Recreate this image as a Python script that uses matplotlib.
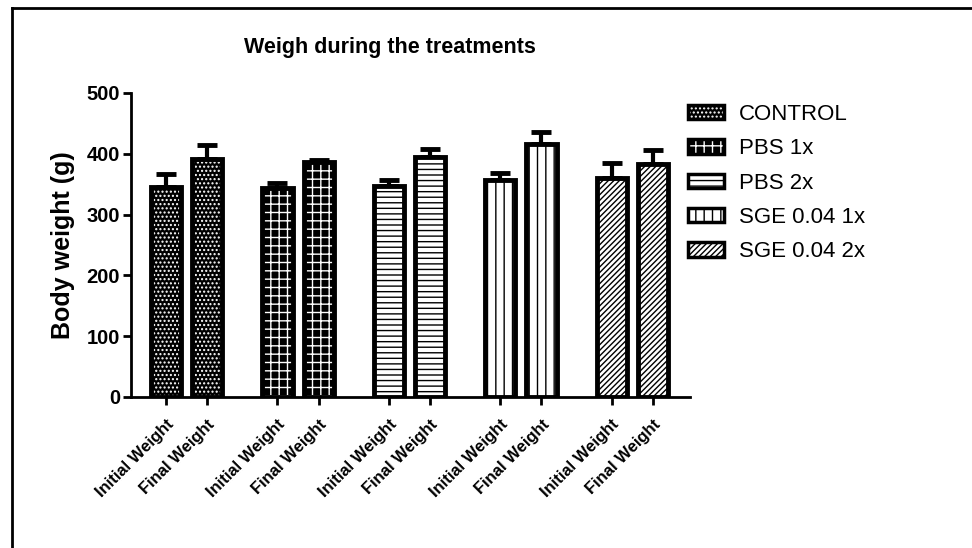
import numpy as np
import matplotlib.pyplot as plt
from matplotlib.patches import Patch
from matplotlib.lines import Line2D
from matplotlib.legend_handler import HandlerTuple

plt.rcParams['font.family'] = ['Liberation Sans', 'DejaVu Sans']
plt.rcParams['hatch.linewidth'] = 1.0

# données
groups = ["CONTROL", "PBS 1x", "PBS 2x", "SGE 0.04 1x", "SGE 0.04 2x"]
tick_labels = ["Initial Weight", "Final Weight"]
means_initial = [346, 343, 347, 357, 360]
means_final = [392, 387, 395, 416, 383]
sem_initial = [20, 9, 10, 12, 25]
sem_final = [22, 3, 13, 20, 23]

# style de chaque groupe : (fond, couleur du motif, motif)
styles = [
    ("black", "white", "...."),
    ("black", "white", "++"),
    ("white", "black", "---"),
    ("white", "black", "||"),
    ("white", "black", "//////"),
]

fig = plt.figure(figsize=(9.72, 5.48), dpi=100)
ax = fig.add_axes([131 / 972, 1 - 397 / 548, (690 - 131) / 972, (397 - 93) / 548])

width = 0.73
gap = 2.7
xs, labels = [], []
for g in range(len(groups)):
    face, hcol, hatch = styles[g]
    for j, (m, e) in enumerate([(means_initial[g], sem_initial[g]),
                                (means_final[g], sem_final[g])]):
        x = g * gap + j
        xs.append(x)
        labels.append(tick_labels[j])
        ax.bar(x, m, width, color=face, edgecolor=hcol, hatch=hatch, linewidth=0, zorder=2)
        ax.bar(x, m, width, fill=False, edgecolor="black", linewidth=3.5, zorder=3)
        ax.errorbar(x, m, yerr=[[0], [e]], fmt="none", ecolor="black",
                    elinewidth=3, capsize=7.5, capthick=3.5, zorder=1)

ax.set_xlim(-0.85, 4 * gap + 1 + 0.9)
ax.set_ylim(0, 500)
ax.set_yticks([0, 100, 200, 300, 400, 500])
ax.set_xticks(xs)
ax.set_xticklabels(labels, rotation=45, ha="right", rotation_mode="anchor",
                   fontsize=12, fontweight="bold")
for t in ax.get_yticklabels():
    t.set_fontsize(14.5)
    t.set_fontweight("bold")
ax.tick_params(axis="both", width=2, length=6, direction="out", pad=2)
ax.tick_params(axis="x", pad=8)
for s in ["top", "right"]:
    ax.spines[s].set_visible(False)
for s in ["left", "bottom"]:
    ax.spines[s].set_linewidth(2)
ax.set_ylabel("Body weight (g)", fontsize=18, fontweight="bold", labelpad=8)

fig.text(390 / 972, 1 - 47 / 548, "Weigh during the treatments",
         fontsize=15.5, fontweight="bold", ha="center", va="center")

# légende : motif + contour noir superposés
handles = []
for face, hcol, hatch in styles:
    handles.append((Patch(facecolor=face, edgecolor=hcol, hatch=hatch, linewidth=0),
                    Patch(fill=False, edgecolor="black", linewidth=2.5)))
leg = fig.legend(handles, groups, loc="upper left", bbox_to_anchor=(668 / 972, 1 - 84 / 548),
                 frameon=False, fontsize=16, handlelength=1.6, handleheight=0.6,
                 handletextpad=0.7, labelspacing=0.6,
                 handler_map={tuple: HandlerTuple(ndivide=1, pad=0)})

# cadre autour de la figure
fig.add_artist(Line2D([12 / 972, 12 / 972], [0, 1 - 8 / 548], color="black", lw=2,
                      transform=fig.transFigure))
fig.add_artist(Line2D([12 / 972, 1], [1 - 8 / 548, 1 - 8 / 548], color="black", lw=2,
                      transform=fig.transFigure))

fig.savefig("out.png", dpi=100)
